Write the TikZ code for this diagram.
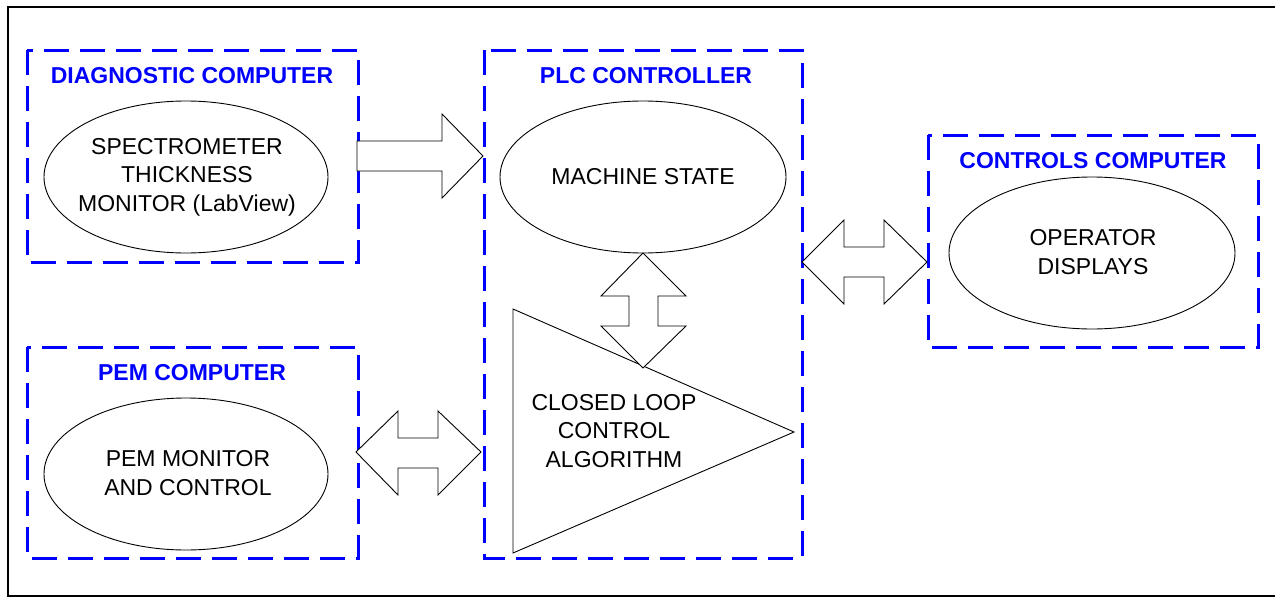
\documentclass[tikz,border=0pt]{standalone}
\usepackage{fontspec}
\setmainfont{Liberation Sans}
\definecolor{pureblue}{RGB}{0,0,255}
\begin{document}
\begin{tikzpicture}[x=1pt,y=-1pt,
  groupbox/.style={draw=pureblue,line width=3pt,dash pattern=on 25pt off 11pt},
  grouptitle/.style={text=pureblue,font=\fontsize{23}{28}\selectfont\bfseries,inner sep=0pt},
  proc/.style={draw=black,line width=0.9pt,ellipse,inner sep=0pt},
  body/.style={font=\fontsize{23}{28.5}\selectfont,align=center,inner sep=0pt},
  blockarrow/.style={draw=black,line width=0.9pt,fill=white,line join=miter}]
\useasboundingbox (0,0) rectangle (1275,597);
% outer frame (right edge lies outside the picture)
\draw[line width=2.5pt] (1276,7) -- (8,7) -- (8,596) -- (1276,596);

% group boxes
\draw[groupbox] (27,50) rectangle (358,262);
\draw[groupbox] (27,347) rectangle (358,558);
\draw[groupbox] (484,50) rectangle (802,558);
\draw[groupbox] (928,135) rectangle (1258,347);

\node[grouptitle] (tdiag) at (192,76) {DIAGNOSTIC COMPUTER};
\node[grouptitle] (tpem) at (192,373) {PEM COMPUTER};
\node[grouptitle] (tplc) at (646,76) {PLC CONTROLLER};
\node[grouptitle] (tctl) at (1093,161) {CONTROLS COMPUTER};

% ellipses
\draw[line width=0.9pt] (186,177) ellipse [x radius=142, y radius=76];
\draw[line width=0.9pt] (186,474) ellipse [x radius=142, y radius=76];
\draw[line width=0.9pt] (643,177) ellipse [x radius=143, y radius=76];
\draw[line width=0.9pt] (1092,253) ellipse [x radius=143, y radius=76];

\node[body] (spec) at (187,177) {SPECTROMETER\\THICKNESS\\MONITOR (LabView)};
\node[body] (pemm) at (188,473) {PEM MONITOR\\AND CONTROL};
\node[body] (mach) at (643,177) {MACHINE STATE};
\node[body] (oper) at (1093,252) {OPERATOR\\DISPLAYS};

% closed loop triangle
\draw[line width=0.9pt,fill=white] (513,309) -- (513,553) -- (794,432) -- cycle;
\node[body] (clc) at (614,431) {CLOSED LOOP\\CONTROL\\ALGORITHM};

% block arrows
\draw[blockarrow] (357,141) -- (442,141) -- (442,114) -- (483,156) -- (442,198) -- (442,171) -- (357,171) -- cycle;
\draw[blockarrow] (356,452) -- (398,411) -- (398,438) -- (438,438) -- (438,411) -- (481,452) -- (438,495) -- (438,468) -- (398,468) -- (398,495) -- cycle;
\draw[blockarrow] (643,253) -- (686,296) -- (658,296) -- (658,326) -- (686,326) -- (643,368) -- (601,326) -- (629,326) -- (629,296) -- (601,296) -- cycle;
\draw[blockarrow] (802,262) -- (844,220) -- (844,247) -- (884,247) -- (884,220) -- (927,262) -- (884,304) -- (884,277) -- (844,277) -- (844,304) -- cycle;
\end{tikzpicture}
\end{document}
